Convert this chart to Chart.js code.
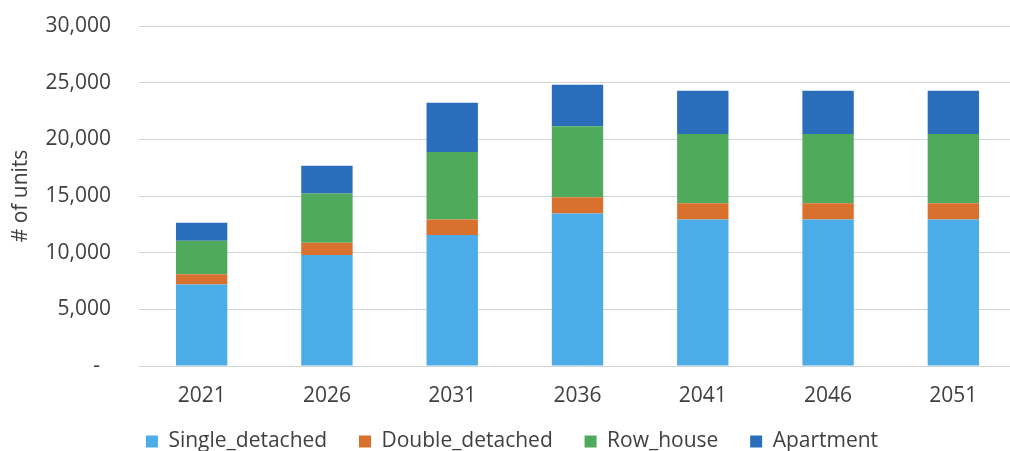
<!DOCTYPE html>
<html>
<head>
<meta charset="utf-8">
<title>Housing units by type</title>
<script src="https://cdn.jsdelivr.net/npm/chart.js@4/dist/chart.umd.min.js"></script>
<style>
  html, body { margin: 0; padding: 0; background: #fff; overflow: hidden; }
  #wrap { width: 1010px; height: 451px; overflow: hidden; }
</style>
</head>
<body>
<div id="wrap"><canvas id="units" width="1020" height="451"></canvas></div>
<script>
// Projected dwelling units by type, per census year
var years = ['2021', '2026', '2031', '2036', '2041', '2046', '2051'];
var singleDetached = [7200, 9800, 11550, 13460, 12930, 12930, 12930];
var doubleDetached = [900, 1070, 1380, 1420, 1420, 1420, 1420];
var rowHouse = [2950, 4360, 5950, 6270, 6120, 6120, 6120];
var apartment = [1600, 2440, 4350, 3670, 3820, 3820, 3820];
var yTicks = [0, 5000, 10000, 15000, 20000, 25000, 30000];

var textColor = '#404040';
var gridColor = '#d4d4d4';
var baseFont = { family: 'Open Sans', size: 21 };

function series(label, values, color) {
    return {
        label: label,
        data: values,
        backgroundColor: color,
        borderWidth: 0,
        barPercentage: 0.41,
        categoryPercentage: 1
    };
}

var ctx = document.getElementById('units').getContext('2d');

var unitsChart = new Chart(ctx, {
    type: 'bar',
    data: {
        labels: years,
        datasets: [
            series('Single_detached', singleDetached, '#4bace8'),
            series('Double_detached', doubleDetached, '#d7712d'),
            series('Row_house', rowHouse, '#4faa5c'),
            series('Apartment', apartment, '#2a6ebb')
        ]
    },
    options: {
        responsive: false,
        animation: false,
        layout: {
            padding: { left: 8, right: 4, top: 26, bottom: -11 }
        },
        scales: {
            x: {
                stacked: true,
                grid: { display: false, drawTicks: false },
                border: { display: false },
                ticks: { color: textColor, font: baseFont, padding: 17 },
                afterFit: function (scale) { scale.height = 55; }
            },
            y: {
                stacked: true,
                min: 0,
                max: 30000,
                afterBuildTicks: function (scale) {
                    scale.ticks = yTicks.map(function (v) { return { value: v }; });
                },
                grid: { color: gridColor, lineWidth: 1, drawTicks: false },
                border: { display: false },
                ticks: {
                    color: textColor,
                    font: baseFont,
                    padding: 28,
                    callback: function (value) {
                        // accounting style: zero shows as a dash
                        return value === 0 ? '-  ' : value.toLocaleString('en-US');
                    }
                },
                title: {
                    display: true,
                    text: '# of units',
                    color: textColor,
                    font: baseFont,
                    padding: { top: 0, bottom: 0 }
                },
                afterFit: function (scale) {
                    scale.width = 131;
                    // tick padding is horizontal here, don't let it eat vertical room
                    scale.paddingTop = 12;
                    scale.paddingBottom = 12;
                }
            }
        },
        plugins: {
            legend: {
                position: 'bottom',
                labels: {
                    color: textColor,
                    font: baseFont,
                    boxWidth: 12,
                    boxHeight: 12,
                    padding: 10,
                    generateLabels: function (chart) {
                        var items = Chart.defaults.plugins.legend.labels.generateLabels(chart);
                        // widen the gap between entries, last one stays tight
                        items.forEach(function (item, i) {
                            if (i < items.length - 1) item.text += '    ';
                        });
                        return items;
                    }
                }
            },
            tooltip: { enabled: false }
        }
    }
});
</script>
</body>
</html>
